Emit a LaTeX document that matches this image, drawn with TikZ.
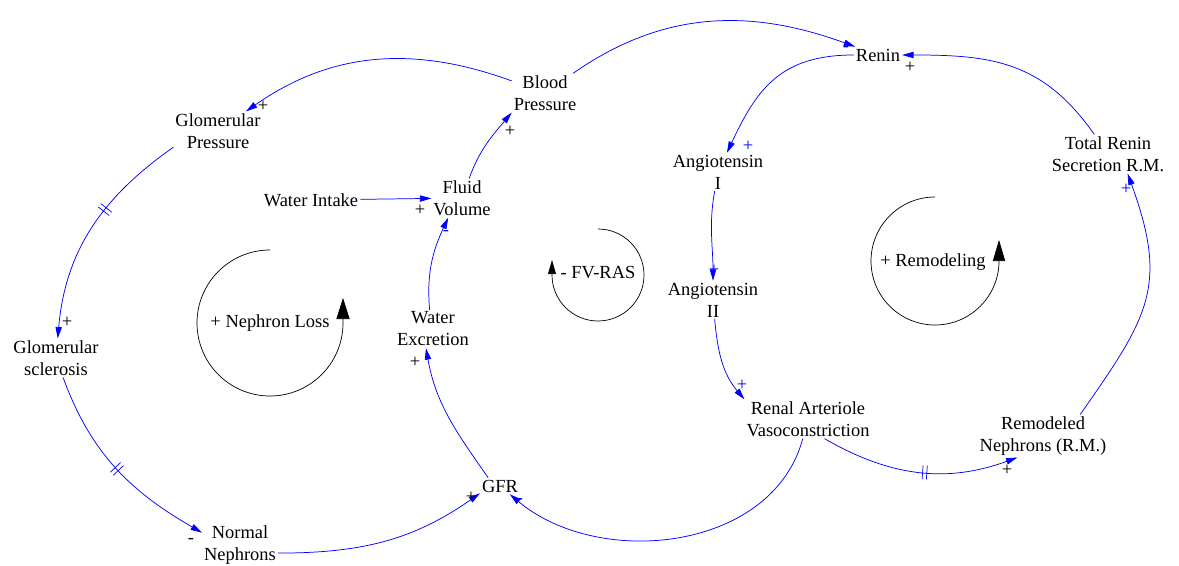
\documentclass[tikz,border=0pt]{standalone}
\usepackage{fontspec}
\setmainfont{Liberation Serif}
\usetikzlibrary{arrows.meta,decorations.markings}
\begin{document}
\begin{tikzpicture}[x=0.02cm,y=0.02cm,font=\rmfamily\fontsize{10.5}{12.5}\selectfont]

% Style for nodes
\tikzstyle{var}=[align=center,inner sep=1pt]
\tikzstyle{sgn}=[inner sep=0pt]
\tikzstyle{bsgn}=[inner sep=0pt,text=blue]
% Style for links and loops
\tikzstyle{link}=[blue,line width=0.42pt,-{Triangle[length=6.5pt,width=3.6pt]}]
\tikzstyle{loopline}=[black,line width=0.4pt]
\tikzset{delaymark/.style={postaction={decorate,decoration={markings,
  mark=at position #1 with {\draw[blue,line width=0.4pt,arrows=-] (-1.2pt,-4pt) -- (-1.2pt,4pt) (1.2pt,-4pt) -- (1.2pt,4pt);}}}}}

\useasboundingbox (0,0) rectangle (1179,565);

% The variables
\node(bp)[var] at (545,472) {Blood\\Pressure};
\node(renin)[var] at (878,510) {Renin};
\node(gp)[var] at (218,434) {Glomerular\\Pressure};
\node(wi)[var] at (311,365) {Water Intake};
\node(fv)[var] at (462,367) {Fluid\\Volume};
\node(a1)[var] at (718,393) {Angiotensin\\I};
\node(trs)[var] at (1108,411) {Total Renin\\Secretion R.M.};
\node(gs)[var] at (56,207) {Glomerular\\sclerosis};
\node(we)[var] at (433,236) {Water\\Excretion};
\node(a2)[var] at (713,265) {Angiotensin\\II};
\node(rav)[var] at (808,146) {Renal Arteriole\\Vasoconstriction};
\node(rn)[var] at (1043,129) {Remodeled\\Nephrons (R.M.)};
\node(gfr)[var] at (500,79) {GFR};
\node(nn)[var] at (240,20) {Normal\\Nephrons};

% The links
\draw[link] (bp) to[out=160,in=35] (gp);
\draw[link] (bp) to[out=35,in=160] (renin);
\draw[link] (renin) to[out=180,in=65,looseness=1.15] (a1);
\draw[link] (trs) to[out=125,in=0,looseness=1.1] (renin);
\draw[link] (a1) to[out=-100,in=90] (a2);
\draw[link] (a2) to[out=-85,in=130] (rav.north west);
\draw[link] (rav) to[out=-105,in=-40] (gfr);
\draw[link,delaymark=0.53] (rav.-50) to[out=-30,in=200] (rn.220);
\draw[link] (rn.30) to[out=55,in=-70,looseness=1.25] (trs.-45);
\draw[link] (fv) to[out=70,in=230] (bp.south west);
\draw[link] (wi) -- (fv);
\draw[link] (we.100) to[out=95,in=245] (fv.235);
\draw[link] (gfr.145) to[out=125,in=-80] (we.250);
\draw[link] (nn.-12) to[out=0,in=215] (gfr.200);
\draw[link,delaymark=0.5] (gs) to[out=-70,in=150] (nn.162);
\draw[link,delaymark=0.4] (gp.200) to[out=-145,in=85] (gs);

% Polarity of the links
\node(s1)[sgn] at (263,459) {+};
\node(s2)[bsgn] at (846,516) {-};
\node(s3)[bsgn] at (748,419) {+};
\node(s4)[sgn] at (910,498) {+};
\node(s5)[bsgn] at (714,295) {+};
\node(s6)[bsgn] at (742,180) {+};
\node(s7)[bsgn] at (520,64) {-};
\node(s8)[sgn] at (1007,95) {+};
\node(s9)[bsgn] at (1126,376) {+};
\node(s10)[sgn] at (510,434) {+};
\node(s11)[sgn] at (420,355) {+};
\node(s12)[bsgn] at (446,332) {-};
\node(s13)[sgn] at (415,203) {+};
\node(s14)[sgn] at (471,68) {+};
\node(s15)[sgn] at (191,24) {-};
\node(s16)[sgn] at (67,243) {+};

% The loops
\node(nl)[var] at (270,242) {+ Nephron Loss};
\draw[loopline,-{Triangle[length=12pt,width=7.5pt]}] (270,315) arc[start angle=90,end angle=360,radius=73] -- (343,267);
\node(fvras)[var] at (598,292) {- FV-RAS};
\draw[loopline,-{Triangle[length=8pt,width=4.5pt]}] (598,336) arc[start angle=90,end angle=-180,radius=46] -- (552,305);
\node(rem)[var] at (933,303) {+ Remodeling};
\draw[loopline,-{Triangle[length=12pt,width=7pt]}] (935,368) arc[start angle=90,end angle=360,radius=64] -- (999,325);
\end{tikzpicture}
\end{document}
